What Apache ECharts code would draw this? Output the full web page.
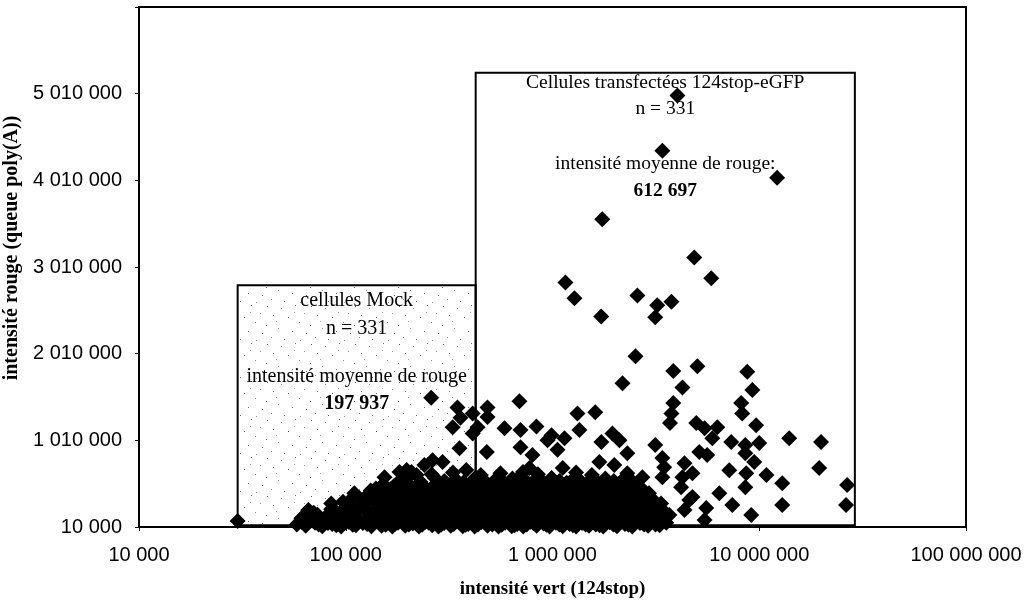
<!DOCTYPE html>
<html>
<head>
<meta charset="utf-8">
<script src="https://cdn.jsdelivr.net/npm/echarts@6/dist/echarts.min.js"></script>
<style>
  html, body { margin: 0; padding: 0; background: #fff; }
  #chart { width: 1026px; height: 602px; }
</style>
</head>
<body>
<div id="chart"></div>
<script>
// Axis ranges (green intensity on a log scale, red intensity linear)
const xRange = [10000, 100000000];
const yRange = [10000, 6010000];
const yStep = 1000000;

// Annotated regions: [x0, y0, x1, y1] in data units
const mockRegion = [30000, 30000, 425000, 2800000];
const transfectedRegion = [425000, 30000, 29000000, 5250000];

// Region texts
const mockTitle = 'cellules Mock';
const transfectedTitle = 'Cellules transfectées 124stop-eGFP';
const cellCount = 'n = 331';
const meanLabelMock = 'intensité moyenne de rouge';
const meanLabelTransfected = 'intensité moyenne de rouge:';
const meanMock = '197 937';
const meanTransfected = '612 697';

// Isolated cells: [green intensity, red intensity]
const scatteredCells = [
  [4020000, 4990000], [3400000, 4350000], [12200000, 4040000], [1740000, 3560000],
  [4850000, 3120000], [5860000, 2880000], [1155000, 2830000], [1277000, 2650000],
  [2573000, 2680000], [3210000, 2570000], [3760000, 2610000], [1720000, 2440000],
  [3140000, 2430000], [2520000, 1980000], [3840000, 1810000], [5020000, 1865000],
  [8750000, 1800000], [2180000, 1670000], [4250000, 1620000], [9260000, 1590000],
  [692000, 1460000], [3840000, 1440000], [3760000, 1320000], [3700000, 1210000],
  [8180000, 1440000], [8270000, 1320000], [1320000, 1320000], [1610000, 1335000],
  [586000, 1150000], [700000, 1130000], [836000, 1170000], [1350000, 1130000],
  [989000, 1070000], [1143000, 1035000], [1057000, 900000], [800000, 840000],
  [1724000, 990000], [1950000, 1090000], [2107000, 1010000], [2300000, 860000],
  [3140000, 955000], [4960000, 1210000], [5440000, 1150000], [6270000, 1160000],
  [5930000, 1035000], [7320000, 990000], [8560000, 955000], [10000000, 980000],
  [9660000, 1185000], [13960000, 1035000], [19900000, 990000], [5130000, 875000],
  [5600000, 840000], [8560000, 860000], [9460000, 760000], [19500000, 690000],
  [3400000, 805000], [4350000, 745000], [4750000, 630000], [7160000, 665000],
  [8650000, 630000], [10830000, 610000], [12920000, 515000], [26600000, 495000],
  [26300000, 263000], [12920000, 263000], [9150000, 148000], [7410000, 263000],
  [6410000, 400000], [8560000, 470000], [1686000, 760000], [1990000, 725000],
  [1120000, 690000], [774000, 690000], [692000, 585000], [2720000, 585000],
  [3470000, 700000], [4190000, 470000], [4750000, 355000], [5540000, 230000],
  [4350000, 206000], [30000, 80000], [66000, 205000], [62000, 115000],
  [72500, 70000], [82000, 55000], [110000, 400000], [97000, 300000],
  [154000, 585000], [182000, 645000], [208000, 645000], [240000, 725000],
  [263000, 780000], [294000, 760000], [259000, 1500000], [347000, 1390000],
  [411000, 1320000], [485000, 1390000], [329000, 1160000], [411000, 1090000],
  [485000, 1280000], [355000, 920000], [481000, 875000], [383000, 667000],
  [197000, 667000], [220000, 609000], [178000, 517000], [107600, 345000],
  [700000, 930000], [359000, 1270000], [434000, 1160000], [946000, 1012000],
  [720000, 645000], [3400000, 585000], [4250000, 585000], [4590000, 321000],
  [5440000, 90000], [3675000, 148000]
];

// Cells crowded near the bottom of the red scale
const clusteredCells = [
  [58000, 40000], [64000, 25000], [71000, 60000], [77000, 20000], [86000, 45000],
  [95000, 15000], [103000, 70000], [112000, 30000], [121000, 55000], [133000, 20000],
  [142000, 80000], [156000, 35000], [168000, 15000], [179000, 60000], [194000, 25000],
  [211000, 50000], [226000, 15000], [243000, 70000], [262000, 30000], [281000, 15000],
  [299000, 55000], [322000, 25000], [344000, 75000], [368000, 20000], [391000, 45000],
  [420000, 15000], [452000, 65000], [485000, 25000], [512000, 40000], [548000, 15000],
  [590000, 60000], [635000, 20000], [676000, 45000], [722000, 15000], [781000, 70000],
  [838000, 25000], [905000, 50000], [968000, 15000], [1040000, 60000], [1120000, 20000],
  [1210000, 45000], [1300000, 15000], [1390000, 55000], [1500000, 25000], [1620000, 40000],
  [1760000, 15000], [1890000, 65000], [2050000, 20000], [2240000, 45000], [2430000, 15000],
  [2650000, 55000], [2900000, 25000], [3150000, 40000],
  [61000, 70000], [74000, 40000], [81000, 85000], [90000, 30000], [99000, 60000],
  [108000, 35000], [117000, 85000], [127000, 45000], [137000, 65000], [149000, 25000],
  [162000, 75000], [173000, 45000], [186000, 85000], [202000, 40000], [218000, 80000],
  [234000, 35000], [252000, 60000], [272000, 80000], [290000, 40000], [310000, 85000],
  [333000, 45000], [356000, 65000], [380000, 35000], [405000, 80000], [436000, 40000],
  [468000, 85000], [498000, 55000], [530000, 80000], [568000, 35000], [612000, 85000],
  [655000, 30000], [698000, 75000], [750000, 40000], [808000, 55000], [870000, 85000],
  [935000, 35000], [1005000, 80000], [1080000, 40000], [1165000, 85000], [1255000, 30000],
  [1345000, 75000], [1445000, 40000], [1560000, 80000], [1690000, 30000], [1825000, 85000],
  [1970000, 40000], [2140000, 80000], [2330000, 35000], [2540000, 80000], [2770000, 40000],
  [3020000, 75000], [3300000, 30000], [3550000, 60000],
  [61000, 110000], [69000, 95000], [80000, 125000], [92000, 100000], [105000, 120000],
  [115000, 95000], [130000, 115000], [145000, 100000], [160000, 125000], [183000, 95000],
  [205000, 120000], [230000, 100000], [256000, 125000], [287000, 95000], [318000, 115000],
  [352000, 100000], [395000, 125000], [440000, 95000], [495000, 120000], [555000, 100000],
  [620000, 125000], [695000, 95000], [770000, 120000], [865000, 100000], [970000, 125000],
  [1080000, 95000], [1210000, 120000], [1350000, 100000], [1510000, 125000], [1690000, 95000],
  [1880000, 120000], [2100000, 100000], [2350000, 125000], [2630000, 95000], [2950000, 120000],
  [3300000, 100000],
  [66000, 200000], [73000, 150000], [90000, 180000], [99000, 230000], [108000, 160000],
  [118000, 250000], [127000, 190000], [139000, 150000], [150000, 220000], [162000, 260000],
  [175000, 170000], [188000, 240000], [202000, 150000], [218000, 210000], [235000, 260000],
  [252000, 170000], [272000, 230000], [290000, 150000], [312000, 250000], [335000, 190000],
  [357000, 240000], [381000, 160000], [408000, 220000], [437000, 260000], [466000, 170000],
  [500000, 230000], [535000, 150000], [572000, 250000], [615000, 190000], [660000, 240000],
  [705000, 160000], [760000, 220000], [815000, 260000], [872000, 170000], [940000, 230000],
  [1010000, 150000], [1080000, 250000], [1160000, 190000], [1250000, 240000], [1340000, 160000],
  [1440000, 220000], [1560000, 260000], [1680000, 170000], [1820000, 230000], [1960000, 150000],
  [2120000, 250000], [2300000, 190000], [2500000, 240000], [2720000, 160000], [2960000, 220000],
  [3250000, 150000],
  [70000, 175000], [85000, 215000], [95000, 165000], [112000, 200000], [122000, 225000],
  [133000, 175000], [145000, 205000], [156000, 235000], [168000, 190000], [181000, 215000],
  [195000, 180000], [210000, 235000], [226000, 185000], [243000, 215000], [262000, 195000],
  [281000, 240000], [301000, 200000], [323000, 175000], [346000, 220000], [369000, 195000],
  [394000, 235000], [422000, 185000], [451000, 215000], [483000, 195000], [518000, 175000],
  [553000, 220000], [593000, 210000], [637000, 175000], [682000, 215000], [732000, 190000],
  [787000, 175000], [843000, 215000], [905000, 195000], [975000, 180000], [1045000, 215000],
  [1120000, 170000], [1205000, 215000], [1295000, 195000], [1390000, 185000], [1500000, 200000],
  [1620000, 215000], [1750000, 195000], [1890000, 185000], [2040000, 205000], [2210000, 215000],
  [2400000, 185000], [2610000, 200000], [2840000, 190000], [3100000, 215000], [3450000, 195000],
  [85000, 280000], [104000, 270000], [125000, 290000], [143000, 275000], [165000, 285000],
  [192000, 270000], [221000, 290000], [256000, 275000], [295000, 285000], [340000, 270000],
  [390000, 290000], [450000, 275000], [520000, 285000], [600000, 270000], [680000, 290000],
  [780000, 275000], [890000, 285000], [1010000, 270000], [1150000, 290000], [1320000, 275000],
  [1500000, 285000], [1720000, 270000], [1960000, 290000], [2250000, 275000], [2560000, 285000],
  [2900000, 270000], [3350000, 280000],
  [122000, 320000], [136000, 370000], [148000, 300000], [160000, 340000], [172000, 380000],
  [186000, 310000], [199000, 360000], [214000, 300000], [231000, 350000], [248000, 380000],
  [266000, 320000], [286000, 360000], [305000, 300000], [328000, 370000], [350000, 330000],
  [375000, 380000], [400000, 310000], [428000, 360000], [458000, 300000], [490000, 370000],
  [525000, 330000], [560000, 380000], [600000, 310000], [645000, 360000], [690000, 300000],
  [740000, 370000], [795000, 330000], [850000, 380000], [915000, 310000], [980000, 360000],
  [1050000, 300000], [1130000, 370000], [1220000, 330000], [1310000, 380000], [1400000, 310000],
  [1510000, 360000], [1630000, 300000], [1750000, 370000], [1900000, 330000], [2050000, 380000],
  [2210000, 310000], [2400000, 360000], [2600000, 300000], [2820000, 370000], [3050000, 330000],
  [116000, 345000], [129000, 390000], [142000, 335000], [154000, 395000], [166000, 320000],
  [179000, 355000], [192000, 400000], [206000, 335000], [222000, 395000], [240000, 330000],
  [257000, 355000], [276000, 400000], [296000, 335000], [316000, 395000], [339000, 320000],
  [362000, 355000], [387000, 400000], [414000, 330000], [443000, 395000], [474000, 345000],
  [507000, 395000], [542000, 350000], [580000, 400000], [622000, 345000], [667000, 390000],
  [715000, 335000], [767000, 400000], [822000, 350000], [882000, 345000], [947000, 395000],
  [1015000, 345000], [1090000, 400000], [1175000, 350000], [1265000, 345000], [1355000, 400000],
  [1455000, 335000], [1570000, 390000], [1690000, 345000], [1825000, 355000], [1975000, 340000],
  [2130000, 400000], [2300000, 340000], [2500000, 390000], [2710000, 345000], [2930000, 400000],
  [132000, 430000], [147000, 470000], [158000, 410000], [171000, 480000], [185000, 440000],
  [200000, 500000], [216000, 420000], [233000, 470000], [250000, 430000], [270000, 490000],
  [292000, 420000], [315000, 460000], [338000, 500000], [362000, 440000], [388000, 480000],
  [415000, 420000], [445000, 470000], [478000, 500000], [512000, 430000], [550000, 480000],
  [590000, 420000], [632000, 460000], [678000, 500000], [730000, 440000], [785000, 480000],
  [845000, 420000], [905000, 470000], [970000, 500000], [1045000, 430000], [1120000, 480000],
  [1200000, 420000], [1290000, 460000], [1390000, 500000], [1490000, 440000], [1600000, 480000],
  [1720000, 420000], [1860000, 470000], [2000000, 430000], [2160000, 490000], [2340000, 420000],
  [2530000, 460000], [2760000, 430000],
  [140000, 455000], [152000, 500000], [164000, 445000], [178000, 460000], [192000, 480000],
  [208000, 455000], [224000, 505000], [241000, 450000], [260000, 460000], [281000, 450000],
  [303000, 495000], [326000, 440000], [350000, 470000], [375000, 455000], [401000, 505000],
  [430000, 445000], [461000, 495000], [495000, 465000], [531000, 455000], [570000, 505000],
  [611000, 445000], [655000, 490000], [704000, 470000], [757000, 505000], [815000, 450000],
  [875000, 495000], [937000, 445000], [1007000, 470000], [1082000, 455000], [1160000, 505000],
  [1245000, 445000], [1340000, 490000], [1440000, 470000], [1545000, 455000], [1660000, 505000],
  [1790000, 445000], [1930000, 500000], [2080000, 465000], [2250000, 450000], [2440000, 500000],
  [2640000, 455000],
  [196000, 560000], [230000, 530000], [270000, 575000], [300000, 540000], [340000, 560000],
  [372000, 525000], [420000, 570000], [470000, 540000], [530000, 555000], [580000, 525000],
  [640000, 570000], [705000, 540000], [760000, 520000], [830000, 560000], [900000, 530000],
  [990000, 575000], [1080000, 540000], [1170000, 520000], [1260000, 565000], [1380000, 530000],
  [1520000, 550000], [1650000, 520000], [1800000, 570000], [1980000, 540000], [2200000, 560000],
  [2450000, 530000],
  [260000, 620000], [330000, 640000], [450000, 610000], [560000, 630000], [850000, 620000],
  [1300000, 640000], [1550000, 610000], [2300000, 630000]
];

// Sparse stipple used to fill the mock-cell region
function stipplePattern() {
  const c = document.createElement('canvas');
  c.width = 44; c.height = 38;
  const g = c.getContext('2d');
  g.fillStyle = '#ffffff';
  g.fillRect(0, 0, c.width, c.height);
  const dots = [
    [3, 2, '#5a5a5a'], [17, 4, '#8c8c8c'], [31, 1, '#6e6e6e'], [40, 9, '#9a9a9a'],
    [9, 11, '#7a7a7a'], [24, 13, '#5f5f5f'], [35, 18, '#888888'], [2, 21, '#6a6a6a'],
    [14, 24, '#9c9c9c'], [28, 27, '#707070'], [42, 29, '#5c5c5c'], [7, 33, '#8a8a8a'],
    [20, 35, '#646464'], [36, 36, '#959595'], [12, 17, '#a0a0a0'], [30, 8, '#a4a4a4']
  ];
  dots.forEach(([x, y, col]) => { g.fillStyle = col; g.fillRect(x, y, 1, 1); });
  return c;
}

function spaced(v) {
  return String(Math.round(v)).replace(/\B(?=(\d{3})+(?!\d))/g, ' ');
}

const serif = '"Liberation Serif", "Times New Roman", serif';
const sans = '"Liberation Sans", Arial, sans-serif';

function regionLabel(size, firstLine, gapLine, offsetY, text) {
  return {
    show: true,
    position: 'insideTop',
    distance: 0,
    offset: [0, offsetY],
    color: '#000',
    fontFamily: serif,
    fontSize: size,
    formatter: text,
    rich: {
      t: { fontFamily: serif, fontSize: size, lineHeight: firstLine, color: '#000' },
      s: { fontFamily: serif, fontSize: 4, lineHeight: gapLine, color: '#000' },
      r: { fontFamily: serif, fontSize: size, lineHeight: 27, color: '#000' },
      b: { fontFamily: serif, fontSize: size, lineHeight: 27, fontWeight: 'bold', color: '#000' }
    }
  };
}

const chart = echarts.init(document.getElementById('chart'), null, { renderer: 'canvas' });

chart.setOption({
  backgroundColor: '#fff',
  animation: false,
  grid: {
    left: 139, right: 60, top: 7, bottom: 75,
    containLabel: false,
    outerBoundsMode: 'none',
    show: true, borderColor: '#000', borderWidth: 2, backgroundColor: 'transparent'
  },
  xAxis: {
    type: 'log',
    logBase: 10,
    min: xRange[0],
    max: xRange[1],
    name: 'intensité vert (124stop)',
    nameLocation: 'middle',
    nameGap: 53,
    nameTextStyle: { fontFamily: serif, fontWeight: 'bold', fontSize: 19, color: '#000' },
    axisLine: { show: true, lineStyle: { color: '#000', width: 2 } },
    axisTick: { show: true, length: 4, lineStyle: { color: '#000' } },
    minorTick: { show: false },
    splitLine: { show: false },
    axisLabel: { margin: 18, fontFamily: sans, fontSize: 20, color: '#000', formatter: spaced }
  },
  yAxis: {
    type: 'value',
    min: yRange[0],
    max: yRange[1],
    interval: yStep,
    name: 'intensité rouge (queue poly(A))',
    nameLocation: 'middle',
    nameGap: 109,
    nameTextStyle: { fontFamily: serif, fontWeight: 'bold', fontSize: 20, color: '#000', padding: [0, 0, 0, 38] },
    axisLine: { show: true, lineStyle: { color: '#000', width: 2 } },
    axisTick: { show: true, length: 4, lineStyle: { color: '#000' } },
    splitLine: { show: false },
    axisLabel: {
      margin: 17, fontFamily: sans, fontSize: 20, color: '#000',
      formatter: v => (v >= yRange[1] ? '' : spaced(v))
    }
  },
  series: [{
    type: 'scatter',
    symbol: 'diamond',
    symbolSize: 16,
    itemStyle: { color: '#000', opacity: 1 },
    data: scatteredCells.concat(clusteredCells),
    markArea: {
      silent: true,
      data: [
        [{
          coord: [mockRegion[0], mockRegion[1]],
          itemStyle: { color: { image: stipplePattern(), repeat: 'repeat' }, borderColor: '#000', borderWidth: 2 },
          label: regionLabel(20, 28, 20.5, 3,
            '{t|' + mockTitle + '}\n{t|' + cellCount + '}\n{s| }\n{r|' + meanLabelMock + '}\n{b|' + meanMock + '}')
        }, { coord: [mockRegion[2], mockRegion[3]] }],
        [{
          coord: [transfectedRegion[0], transfectedRegion[1]],
          itemStyle: { color: 'rgba(255,255,255,0)', borderColor: '#000', borderWidth: 2 },
          label: regionLabel(19.5, 26, 28.5, -2,
            '{t|' + transfectedTitle + '}\n{t|' + cellCount + '}\n{s| }\n{r|' + meanLabelTransfected + '}\n{b|' + meanTransfected + '}')
        }, { coord: [transfectedRegion[2], transfectedRegion[3]] }]
      ]
    }
  }]
});
</script>
</body>
</html>
